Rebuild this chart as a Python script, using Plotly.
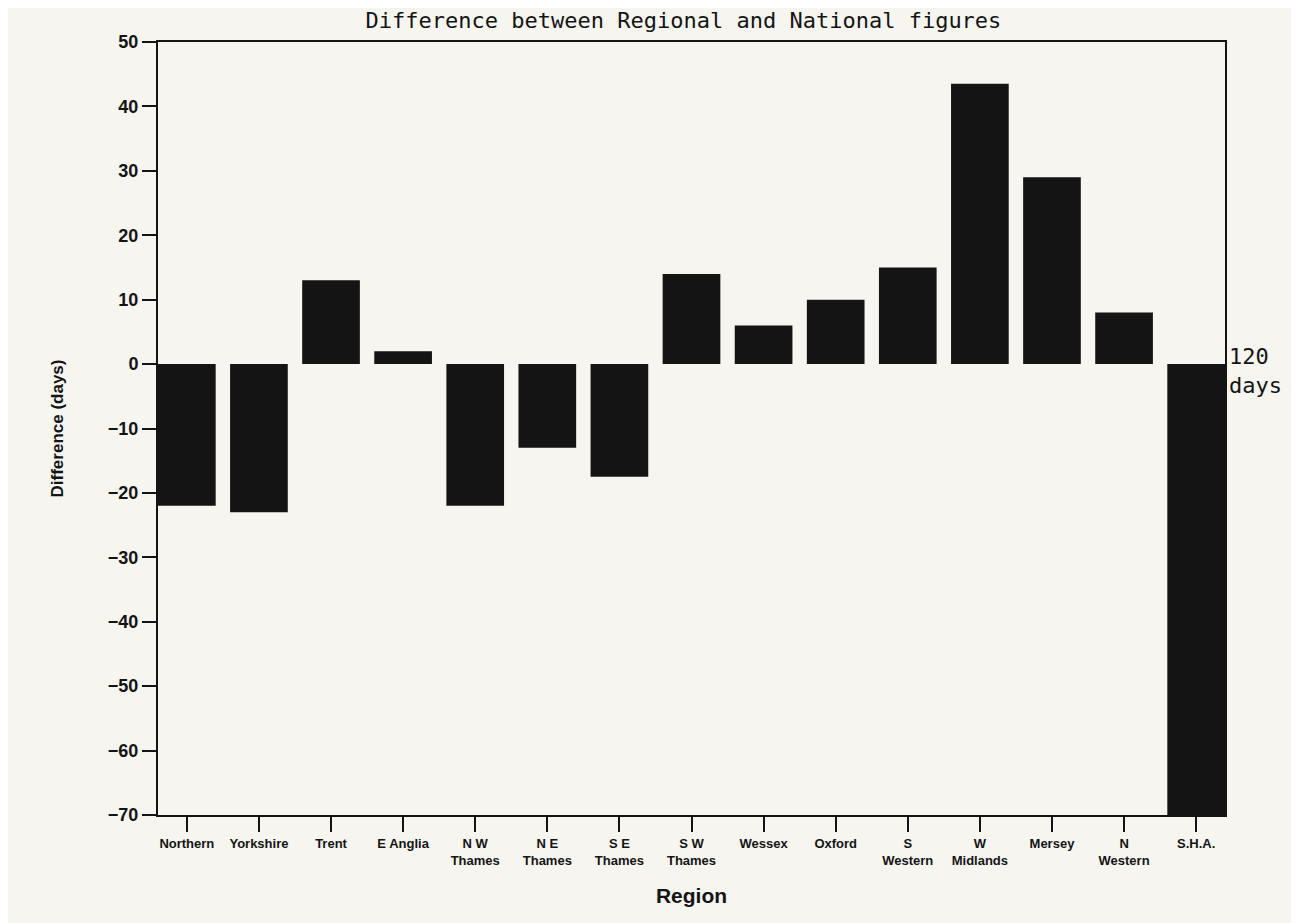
import plotly.graph_objects as go

regions = ["Northern", "Yorkshire", "Trent", "E Anglia", "N W<br>Thames", "N E<br>Thames",
           "S E<br>Thames", "S W<br>Thames", "Wessex", "Oxford", "S<br>Western",
           "W<br>Midlands", "Mersey", "N<br>Western", "S.H.A."]
difference = [-22, -23, 13, 2, -22, -13, -17.5, 14, 6, 10, 15, 43.5, 29, 8, -70.5]
y_ticks = [-70, -60, -50, -40, -30, -20, -10, 0, 10, 20, 30, 40, 50]

paper = "#f6f5f0"
ink = "#141414"

fig = go.Figure(go.Bar(
    x=list(range(len(regions))), y=difference,
    marker=dict(color=ink, line=dict(width=0)),
    width=0.8, cliponaxis=False,
))

fig.update_layout(
    width=1299, height=923,
    paper_bgcolor=paper, plot_bgcolor=paper,
    margin=dict(l=150, r=82, t=34, b=116),
    showlegend=False,
    title=dict(text="Difference between Regional and National figures",
               x=0.52, xanchor="center", y=0.995, yanchor="top",
               font=dict(family="DejaVu Sans Mono", size=22, color=ink)),
    font=dict(family="Liberation Sans", color=ink),
)

fig.update_xaxes(
    range=[-0.4, 14.4],
    tickmode="array", tickvals=list(range(len(regions))), ticktext=regions,
    ticks="outside", ticklen=15, tickwidth=2, tickcolor=ink,
    tickfont=dict(size=13, family="Liberation Sans", weight="bold"),
    tickangle=0,
    showline=True, linecolor=ink, linewidth=2, mirror=True,
    showgrid=False, zeroline=False,
    title=dict(text="Region", font=dict(size=21, family="Liberation Sans", weight="bold"), standoff=22),
)
fig.update_yaxes(
    range=[-70, 50],
    tickmode="array", tickvals=y_ticks,
    ticks="outside", ticklen=14, tickwidth=2, tickcolor=ink,
    tickfont=dict(size=18, family="Liberation Sans", weight="bold"),
    showline=True, linecolor=ink, linewidth=2, mirror=True,
    showgrid=False, zeroline=False,
    title=dict(text="Difference (days)", font=dict(size=17, family="Liberation Sans", weight="bold"), standoff=40),
)

fig.add_annotation(
    x=1.0, xref="paper", y=-1, yref="y",
    text="120<br>days", showarrow=False, xanchor="left", yanchor="middle",
    xshift=2, align="left",
    font=dict(family="DejaVu Sans Mono", size=22, color=ink),
)

fig.write_html("out.html")
